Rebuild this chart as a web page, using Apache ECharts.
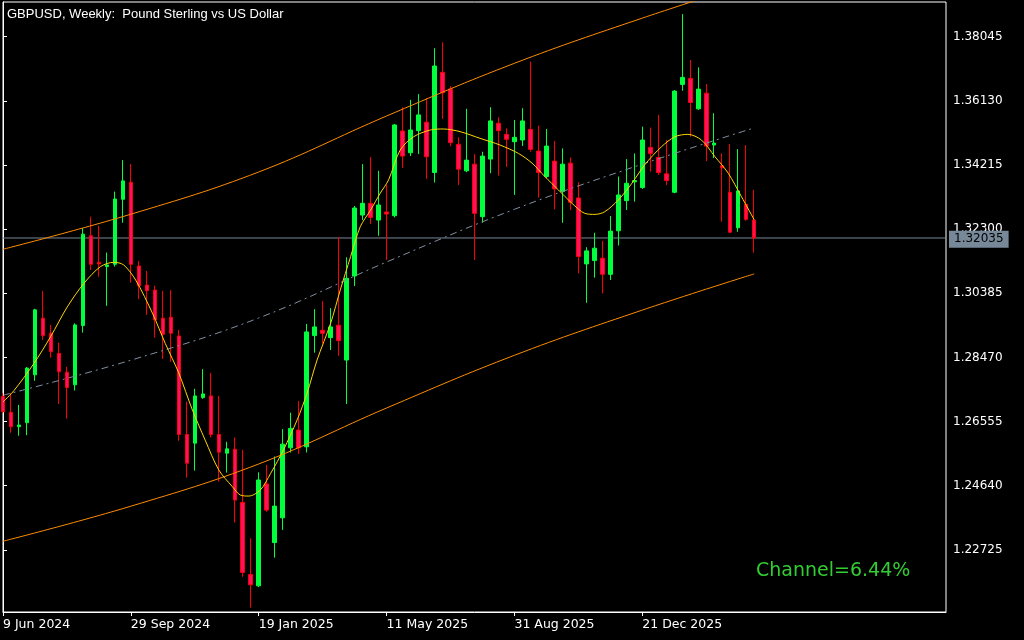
<!DOCTYPE html>
<html><head><meta charset="utf-8">
<script src="https://cdn.jsdelivr.net/npm/echarts@6/dist/echarts.min.js"></script>
<style>html,body{margin:0;padding:0;background:#000;}#c{width:1024px;height:640px;}</style>
</head><body><div id="c"></div>
<script>
const chartTitle = 'GBPUSD, Weekly:  Pound Sterling vs US Dollar';
const channelText = 'Channel=6.44%';
const firstWeekUTC = [2024, 5, 9];
const slotCount = 119;
const labelEvery = 16;
const lastBar = 94;
const monthNames = ['Jan','Feb','Mar','Apr','May','Jun','Jul','Aug','Sep','Oct','Nov','Dec'];

const opens  = [1.2730,1.2683,1.2640,1.2652,1.2795,1.2964,1.2919,1.2859,1.2803,1.2765,
                1.2942,1.3210,1.3131,1.3118,1.3125,1.3319,1.3370,1.3120,1.3063,1.3048,
                1.2964,1.2967,1.2911,1.2617,1.2591,1.2727,1.2732,1.2617,1.2561,1.2573,
                1.2414,1.2199,1.2165,1.2469,1.2294,1.2368,1.2577,1.2630,1.2580,1.2912,
                1.2928,1.2906,1.2943,1.2839,1.3090,1.3272,1.3307,1.3257,1.3281,1.3270,
                1.3523,1.3458,1.3524,1.3549,1.3399,1.3698,1.3648,1.3483,1.3404,1.3424,
                1.3267,1.3439,1.3546,1.3513,1.3491,1.3496,1.3528,1.3463,1.3387,1.3433,
                1.3342,1.3427,1.3323,1.3126,1.3136,1.3143,1.3095,1.3225,1.3315,1.3371,
                1.3354,1.3474,1.3444,1.3395,1.3340,1.3662,1.3680,1.3589,1.3636,1.3481,
                1.3419,1.3340,1.3234,1.3304,1.3257];
const closes = [1.2685,1.2640,1.2645,1.2815,1.2989,1.2912,1.2864,1.2804,1.2757,1.2944,
                1.3215,1.3125,1.3126,1.3123,1.3320,1.3374,1.3125,1.3061,1.3046,1.2959,
                1.2916,1.2919,1.2617,1.2531,1.2732,1.2738,1.2617,1.2564,1.2574,1.2421,
                1.2205,1.2168,1.2481,1.2391,1.2403,1.2588,1.2635,1.2577,1.2923,1.2938,
                1.2919,1.2938,1.2897,1.3083,1.3293,1.3307,1.3265,1.3302,1.3275,1.3541,
                1.3448,1.3526,1.3571,1.3446,1.3717,1.3637,1.3488,1.3409,1.3436,1.3277,
                1.3448,1.3553,1.3524,1.3498,1.3504,1.3553,1.3468,1.3399,1.3478,1.3350,
                1.3424,1.3310,1.3148,1.3165,1.3173,1.3095,1.3224,1.3332,1.3367,1.3375,
                1.3496,1.3456,1.3399,1.3375,1.3642,1.3683,1.3608,1.3648,1.3478,1.3487,
                1.3413,1.3221,1.3344,1.3259,1.32035];
const lows   = [1.2681,1.2622,1.2613,1.2615,1.2777,1.2899,1.2846,1.2708,1.2664,1.2748,
                1.2921,1.3108,1.3088,1.3001,1.3118,1.3249,1.3070,1.3021,1.2974,1.2906,
                1.2842,1.2834,1.2598,1.2488,1.2509,1.2723,1.2608,1.2476,1.2503,1.2354,
                1.2192,1.2100,1.2161,1.2386,1.2249,1.2332,1.2563,1.2559,1.2563,1.2861,
                1.2889,1.2869,1.2852,1.2708,1.3060,1.3257,1.3245,1.3210,1.3138,1.3265,
                1.3413,1.3448,1.3454,1.3380,1.3369,1.3559,1.3478,1.3362,1.3400,1.3138,
                1.3249,1.3397,1.3390,1.3416,1.3332,1.3478,1.3461,1.3324,1.3382,1.3289,
                1.3249,1.3287,1.3098,1.3010,1.3085,1.3038,1.3078,1.3181,1.3287,1.3312,
                1.3350,1.3402,1.3392,1.3362,1.3337,1.3643,1.3506,1.3586,1.3433,1.3442,
                1.3252,1.3218,1.3222,1.3255,1.3160];
const highs  = [1.2741,1.2740,1.2705,1.2818,1.2992,1.3045,1.2944,1.2891,1.2819,1.2949,
                1.3233,1.3267,1.3240,1.3160,1.3342,1.3436,1.3424,1.3135,1.3105,1.3061,
                1.3045,1.3048,1.2929,1.2715,1.2753,1.2812,1.2801,1.2732,1.2595,1.2608,
                1.2571,1.2307,1.2504,1.2526,1.2551,1.2633,1.2682,1.2717,1.2947,1.2991,
                1.3015,1.2994,1.3206,1.3146,1.3299,1.3424,1.3445,1.3404,1.3362,1.3544,
                1.3594,1.3616,1.3633,1.3621,1.3770,1.3788,1.3657,1.3504,1.3589,1.3454,
                1.3461,1.3594,1.3564,1.3531,1.3556,1.3591,1.3730,1.3539,1.3529,1.3493,
                1.3471,1.3444,1.3370,1.3176,1.3219,1.3195,1.3269,1.3387,1.3439,1.3456,
                1.3536,1.3533,1.3571,1.3496,1.3645,1.3872,1.3735,1.3713,1.3663,1.3576,
                1.3456,1.3484,1.3469,1.3481,1.3347];

const priceTicks = [1.22725,1.24640,1.26555,1.28470,1.30385,1.32300,1.34215,1.36130,1.38045];
const priceMin = 1.20868;
const priceMax = 1.39081;
const currentPrice = 1.32035;

const smoothIdx = [0,1.375,3.875,5.96,8.05,10.125,12.2,13.875,15.1,16.6,18.7,20.3,22,23.7,25.3,27,28.7,29.7,30.75,32.2,
                   33.5,35.1,36.8,38.05,39.3,41,42.2,43.5,44.7,46,47.2,48.25,49.7,51.4,53.5,55.1,57.2,59.7,62.2,64.5,
                   66.2,67.8,69.5,71.2,72.8,74.1,75.3,77,78.7,80.3,82.4,84.1,85.7,87.4,89.1,90.75,92.4,94];
const smoothVal = [1.2714,1.2748,1.2829,1.2909,1.2998,1.3068,1.3118,1.3131,1.3123,1.3078,1.2979,1.2889,1.2800,1.2690,1.2600,1.2511,1.2461,1.2436,1.2433,1.2451,
                   1.2501,1.2571,1.2660,1.2740,1.2839,1.2949,1.3048,1.3148,1.3237,1.3287,1.3337,1.3377,1.3466,1.3506,1.3526,1.3529,1.3521,1.3501,1.3481,1.3456,
                   1.3427,1.3387,1.3347,1.3307,1.3277,1.3274,1.3282,1.3317,1.3367,1.3422,1.3476,1.3506,1.3513,1.3496,1.3446,1.3397,1.3327,1.3258];

const channelIdx   = [0,16,32,48,64,80,94];
const channelMid   = [1.27339,1.28386,1.29647,1.31318,1.32892,1.34241,1.35322];
const channelUpper = [1.31698,1.32745,1.34006,1.35677,1.37251,1.38600,1.39681];
const channelLower = [1.22980,1.24027,1.25288,1.26959,1.28533,1.29882,1.30963];

// ---- build ----
const categories = [];
for (let i = 0; i < slotCount; i++) {
  const d = new Date(Date.UTC(firstWeekUTC[0], firstWeekUTC[1], firstWeekUTC[2] + 7 * i));
  categories.push(d.getUTCDate() + ' ' + monthNames[d.getUTCMonth()] + ' ' + d.getUTCFullYear());
}
const candles = opens.map((o, i) => [o, closes[i], lows[i], highs[i]]);
const pairs = (xs, ys) => xs.map((x, i) => [x, ys[i]]);
const showLabel = (idx) => idx % labelEvery === 0 && idx <= lastBar;
const priceGray = '#778899';

const chart = echarts.init(document.getElementById('c'), null, {renderer: 'canvas'});
chart.setOption({
  backgroundColor: '#000',
  animation: false,
  textStyle: {fontFamily: 'Liberation Sans'},
  title: {
    text: chartTitle, left: 2, top: 3,
    textStyle: {color: '#fff', fontSize: 13, fontWeight: 'normal', fontFamily: 'Liberation Sans'}
  },
  grid: {left: 2, right: 78, top: 2, bottom: 28, show: true, borderColor: '#fff', borderWidth: 1},
  xAxis: [
    {
      type: 'category', data: categories, boundaryGap: false,
      axisLine: {show: true, lineStyle: {color: '#fff', width: 1}},
      axisTick: {show: true, interval: showLabel, length: 4, lineStyle: {color: '#fff'}},
      axisLabel: {interval: showLabel, color: '#fff', align: 'left', fontSize: 12.5, margin: 6, fontFamily: 'DejaVu Sans'},
      splitLine: {show: false}
    },
    {type: 'value', min: 0, max: slotCount - 1, show: false}
  ],
  yAxis: {
    type: 'value', position: 'right', min: priceMin, max: priceMax,
    axisLine: {show: true, lineStyle: {color: '#fff'}},
    axisTick: {show: true, customValues: priceTicks, length: 4, lineStyle: {color: '#fff'}},
    axisLabel: {customValues: priceTicks, formatter: v => v.toFixed(5), color: '#fff', fontSize: 12, margin: 7, fontFamily: 'DejaVu Sans'},
    splitLine: {show: false}
  },
  graphic: [{
    type: 'text', left: 756, top: 562, z: 100,
    style: {text: channelText, fill: '#32cd32', font: '19px "DejaVu Sans"'}
  }],
  series: [
    {
      type: 'line', xAxisIndex: 1, data: pairs([0, slotCount - 1], [currentPrice, currentPrice]),
      symbol: 'none', silent: true, z: 3, color: priceGray,
      lineStyle: {color: priceGray, width: 1},
      markLine: {
        silent: true, symbol: 'none', z: 20,
        lineStyle: {color: priceGray, width: 1, type: 'solid', opacity: 0},
        label: {position: 'end', formatter: () => currentPrice.toFixed(5), backgroundColor: priceGray, color: '#000',
                fontSize: 12, fontFamily: 'DejaVu Sans', padding: [3, 5, 2, 5], distance: 3, opacity: 1},
        data: [{yAxis: currentPrice}]
      }
    },
    {
      type: 'candlestick', xAxisIndex: 0, data: candles, barWidth: 4, z: 5,
      itemStyle: {color: '#00ff3c', color0: '#ff1060', borderColor: '#00ff3c', borderColor0: '#ff0000', borderWidth: 1}
    },
    {type: 'line', xAxisIndex: 1, data: pairs(channelIdx, channelUpper), smooth: 0.4, symbol: 'none',
     lineStyle: {color: '#ff8c00', width: 1}, silent: true, z: 6},
    {type: 'line', xAxisIndex: 1, data: pairs(channelIdx, channelLower), smooth: 0.4, symbol: 'none',
     lineStyle: {color: '#ff8c00', width: 1}, silent: true, z: 6},
    {type: 'line', xAxisIndex: 1, data: pairs(channelIdx, channelMid), smooth: 0.4, symbol: 'none',
     lineStyle: {color: '#8090a4', width: 1, type: [7, 4, 2, 4]}, silent: true, z: 6},
    {type: 'line', xAxisIndex: 1, data: pairs(smoothIdx, smoothVal), smooth: 0.3, symbol: 'none',
     lineStyle: {color: '#ffd700', width: 1}, silent: true, z: 7}
  ]
});
</script>
</body></html>
